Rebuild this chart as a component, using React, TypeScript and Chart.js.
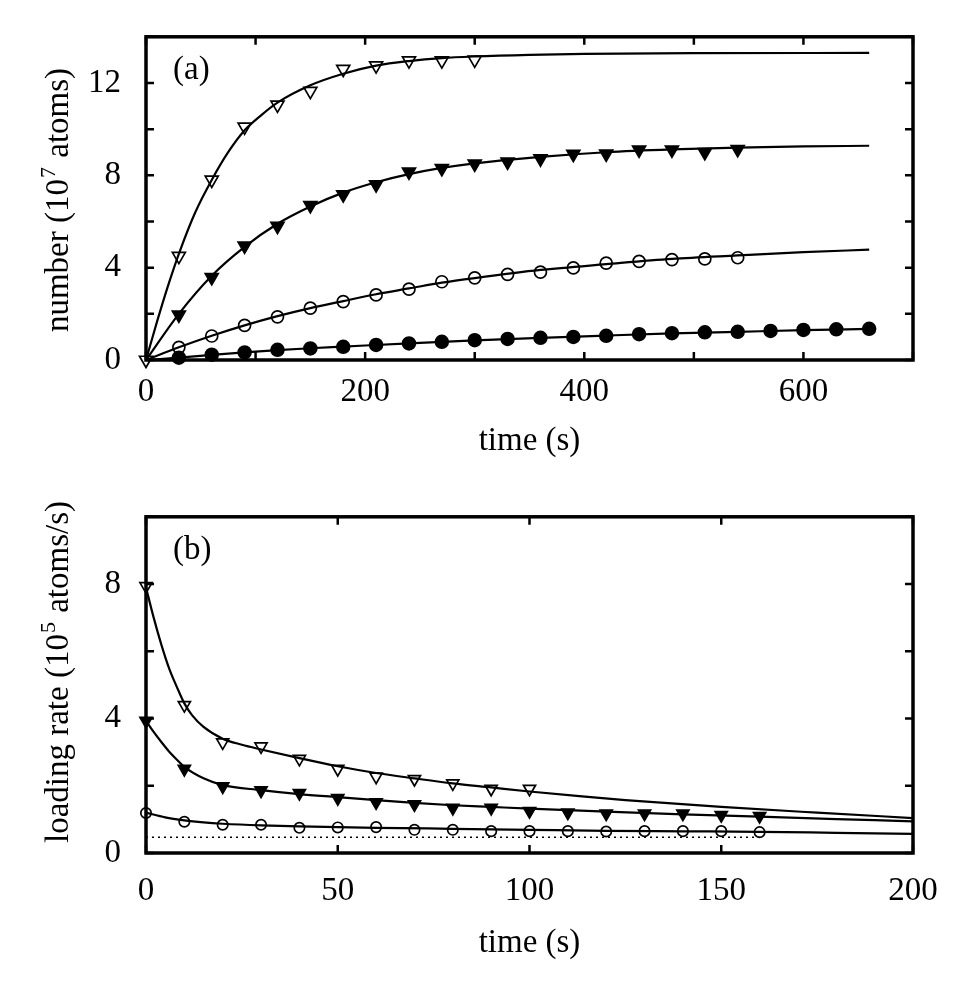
import { useEffect, useRef } from 'react';
import { Chart, registerables } from 'chart.js';

Chart.register(...registerables);

const FONT = '"Liberation Serif", "Times New Roman", serif';

// ---- panel (a): number of atoms vs time ----
const tOpenTriA = [0, 30, 60, 90, 120, 150, 180, 210, 240, 270, 300];
const nOpenTriA = [0, 4.5, 7.8, 10.1, 11.05, 11.65, 12.6, 12.75, 12.97, 12.97, 13.0];

const tFilledTriA = [30, 60, 90, 120, 150, 180, 210, 240, 270, 300, 330, 360, 390, 420, 450, 480, 510, 540];
const nFilledTriA = [1.96, 3.58, 4.95, 5.8, 6.7, 7.17, 7.6, 8.15, 8.3, 8.5, 8.58, 8.72, 8.92, 8.93, 9.1, 9.1, 9.0, 9.13];

const tOpenCircA = [30, 60, 90, 120, 150, 180, 210, 240, 270, 300, 330, 360, 390, 420, 450, 480, 510, 540];
const nOpenCircA = [0.55, 1.04, 1.5, 1.87, 2.25, 2.53, 2.82, 3.07, 3.39, 3.56, 3.71, 3.81, 3.99, 4.2, 4.27, 4.35, 4.38, 4.43];

const tFilledCircA = [30, 60, 90, 120, 150, 180, 210, 240, 270, 300, 330, 360, 390, 420, 450, 480, 510, 540, 570, 600, 630, 660];
const nFilledCircA = [0.1, 0.23, 0.33, 0.44, 0.5, 0.57, 0.65, 0.72, 0.79, 0.86, 0.91, 0.96, 1.0, 1.05, 1.12, 1.16, 1.2, 1.22, 1.26, 1.3, 1.33, 1.35];

// fitted curves
const tFit1A = [0, 10, 20, 30, 45, 60, 75, 90, 105, 120, 150, 180, 210, 240, 270, 300, 350, 400, 500, 660];
const nFit1A = [0, 1.65, 3.2, 4.6, 6.4, 7.8, 9.0, 9.95, 10.6, 11.15, 11.9, 12.4, 12.75, 12.95, 13.08, 13.15, 13.22, 13.26, 13.29, 13.3];
const tFit2A = [0, 30, 60, 90, 120, 150, 180, 210, 240, 270, 300, 360, 420, 480, 540, 600, 660];
const nFit2A = [0, 2.0, 3.65, 4.9, 5.9, 6.65, 7.25, 7.7, 8.05, 8.32, 8.52, 8.8, 9.0, 9.12, 9.2, 9.25, 9.28];
const tFit3A = [0, 30, 60, 90, 120, 150, 180, 210, 240, 270, 300, 360, 420, 480, 540, 600, 660];
const nFit3A = [0, 0.55, 1.05, 1.5, 1.9, 2.25, 2.55, 2.85, 3.1, 3.35, 3.55, 3.9, 4.15, 4.38, 4.53, 4.67, 4.78];
const tFit4A = [0, 30, 60, 90, 120, 150, 180, 240, 300, 360, 420, 480, 540, 600, 660];
const nFit4A = [0, 0.1, 0.22, 0.33, 0.43, 0.51, 0.58, 0.72, 0.85, 0.96, 1.06, 1.15, 1.22, 1.29, 1.35];

// ---- panel (b): loading rate vs time ----
const tOpenTriB = [0, 10, 20, 30, 40, 50, 60, 70, 80, 90, 100];
const rOpenTriB = [7.94, 4.4, 3.29, 3.17, 2.8, 2.5, 2.27, 2.2, 2.07, 1.91, 1.91];

const tFilledTriB = [0, 10, 20, 30, 40, 50, 60, 70, 80, 90, 100, 110, 120, 130, 140, 150, 160];
const rFilledTriB = [3.93, 2.5, 1.98, 1.86, 1.78, 1.63, 1.51, 1.45, 1.34, 1.34, 1.25, 1.2, 1.17, 1.17, 1.17, 1.13, 1.1];

const tOpenCircB = [0, 10, 20, 30, 40, 50, 60, 70, 80, 90, 100, 110, 120, 130, 140, 150, 160];
const rOpenCircB = [1.19, 0.93, 0.84, 0.84, 0.75, 0.76, 0.77, 0.69, 0.69, 0.65, 0.65, 0.65, 0.64, 0.65, 0.65, 0.65, 0.62];

const tFit1B = [0, 2, 4, 6, 8, 10, 12, 15, 20, 25, 30, 40, 50, 60, 70, 80, 90, 100, 113, 125, 150, 175, 200];
const rFit1B = [7.9, 7.0, 6.2, 5.5, 4.95, 4.45, 4.1, 3.75, 3.4, 3.22, 3.08, 2.82, 2.58, 2.38, 2.22, 2.07, 1.95, 1.83, 1.69, 1.57, 1.37, 1.2, 1.04];
const tFit2B = [0, 2, 4, 6, 8, 10, 15, 20, 30, 40, 50, 60, 70, 80, 90, 100, 120, 140, 160, 180, 200];
const rFit2B = [3.93, 3.6, 3.3, 3.02, 2.78, 2.56, 2.22, 2.02, 1.87, 1.75, 1.66, 1.57, 1.49, 1.42, 1.37, 1.32, 1.23, 1.15, 1.08, 1.01, 0.94];
const tFit3B = [0, 5, 10, 15, 20, 30, 40, 50, 60, 80, 100, 120, 140, 160, 180, 200];
const rFit3B = [1.2, 1.06, 0.97, 0.91, 0.87, 0.82, 0.79, 0.77, 0.75, 0.72, 0.69, 0.66, 0.645, 0.63, 0.6, 0.57];

const tBackground = [0, 160];
const rBackground = [0.47, 0.47];

const pts = (xs: number[], ys: number[]) => xs.map((x, i) => ({ x, y: ys[i] }));

// box, inward ticks on all sides, panel label and y title with superscript
const framePlugin = {
  id: 'frame',
  afterDraw(chart: any, _args: any, opts: any) {
    const { ctx, chartArea: a, scales } = chart;
    const xs = scales.x;
    const ys = scales.y;
    ctx.save();
    ctx.strokeStyle = '#000';
    ctx.lineWidth = 2.5;
    const len = 8;
    ctx.beginPath();
    xs.ticks.forEach((tk: any) => {
      const px = xs.getPixelForValue(tk.value);
      ctx.moveTo(px, a.bottom);
      ctx.lineTo(px, a.bottom - len);
      ctx.moveTo(px, a.top);
      ctx.lineTo(px, a.top + len);
    });
    ys.ticks.forEach((tk: any) => {
      const py = ys.getPixelForValue(tk.value);
      ctx.moveTo(a.left, py);
      ctx.lineTo(a.left + len, py);
      ctx.moveTo(a.right, py);
      ctx.lineTo(a.right - len, py);
    });
    ctx.stroke();
    ctx.lineWidth = 3.5;
    ctx.strokeRect(a.left, a.top, a.right - a.left, a.bottom - a.top);

    ctx.fillStyle = '#000';
    ctx.textBaseline = 'alphabetic';
    ctx.textAlign = 'left';
    ctx.font = `33px ${FONT}`;
    ctx.fillText(opts.label, a.left + 27, a.top + 42);

    // rotated y title
    const big = `33px ${FONT}`;
    const small = `22px ${FONT}`;
    ctx.font = big;
    const w1 = ctx.measureText(opts.pre).width;
    const w3 = ctx.measureText(opts.post).width;
    ctx.font = small;
    const w2 = ctx.measureText(opts.sup).width;
    const start = -(w1 + w2 + w3) / 2;
    ctx.translate(68, opts.titleY);
    ctx.rotate(-Math.PI / 2);
    ctx.font = big;
    ctx.fillText(opts.pre, start, 0);
    ctx.font = small;
    ctx.fillText(opts.sup, start + w1 + 1, -13);
    ctx.font = big;
    ctx.fillText(opts.post, start + w1 + w2 + 2, 0);
    ctx.restore();
  },
};

const marker = (data: { x: number; y: number }[], kind: string, r: number) => {
  const tri = kind.includes('Tri');
  const filled = kind.startsWith('filled');
  return {
    data,
    showLine: false,
    pointStyle: tri ? 'triangle' : 'circle',
    rotation: tri ? 180 : 0,
    pointRadius: r,
    pointBorderWidth: 1.7,
    pointBorderColor: '#000',
    pointBackgroundColor: filled ? '#000' : 'rgba(0,0,0,0)',
    clip: false as const,
  };
};

const fit = (data: { x: number; y: number }[]) => ({
  data,
  showLine: true,
  pointRadius: 0,
  borderColor: '#000',
  borderWidth: 2.2,
  cubicInterpolationMode: 'monotone' as const,
});

function makeOptions(cfg: {
  xMax: number; xStep: number; xLabelEvery: number;
  yMax: number; yLabelEvery: number;
  xHeight: number; xPadTop: number; xTitlePad: number; top: number;
  frame: any;
}) {
  return {
    animation: false as const,
    responsive: true,
    maintainAspectRatio: false,
    events: [],
    layout: { padding: { left: 0, right: 64, top: cfg.top, bottom: 0 } },
    plugins: {
      legend: { display: false },
      tooltip: { enabled: false },
      frame: cfg.frame,
    },
    scales: {
      x: {
        type: 'linear' as const,
        min: 0,
        max: cfg.xMax,
        grid: { display: false },
        border: { display: false },
        ticks: {
          stepSize: cfg.xStep,
          color: '#000',
          padding: cfg.xPadTop,
          maxRotation: 0,
          font: { family: FONT, size: 33 },
          callback: (v: any) => (Number(v) % cfg.xLabelEvery === 0 ? String(v) : ''),
        },
        title: {
          display: true,
          text: 'time (s)',
          color: '#000',
          font: { family: FONT, size: 33 },
          padding: { top: 0, bottom: cfg.xTitlePad },
        },
        afterFit: (s: any) => { s.height = cfg.xHeight; },
      },
      y: {
        type: 'linear' as const,
        min: 0,
        max: cfg.yMax,
        grid: { display: false },
        border: { display: false },
        ticks: {
          stepSize: 2,
          color: '#000',
          padding: 17,
          font: { family: FONT, size: 33 },
          callback: (v: any) => (Number(v) % cfg.yLabelEvery === 0 ? String(v) : ''),
        },
        afterFit: (s: any) => { s.width = 146; },
      },
    },
  };
}

function PanelA() {
  const ref = useRef<HTMLCanvasElement>(null);
  useEffect(() => {
    if (!ref.current) return;
    const chart = new Chart(ref.current, {
      type: 'scatter',
      data: {
        datasets: [
          marker(pts(tOpenTriA, nOpenTriA), 'openTri', 7.5),
          marker(pts(tFilledTriA, nFilledTriA), 'filledTri', 7.5),
          marker(pts(tOpenCircA, nOpenCircA), 'openCirc', 6),
          marker(pts(tFilledCircA, nFilledCircA), 'filledCirc', 6.4),
          fit(pts(tFit1A, nFit1A)),
          fit(pts(tFit2A, nFit2A)),
          fit(pts(tFit3A, nFit3A)),
          fit(pts(tFit4A, nFit4A)),
        ] as any,
      },
      options: makeOptions({
        xMax: 700, xStep: 100, xLabelEvery: 200,
        yMax: 14, yLabelEvery: 4,
        xHeight: 120, xPadTop: 5, xTitlePad: 19, top: 33,
        frame: { label: '(a)', pre: 'number (10', sup: '7', post: ' atoms)', titleY: 201 },
      }) as any,
      plugins: [framePlugin],
    });
    return () => chart.destroy();
  }, []);
  return (
    <div style={{ position: 'relative', width: 977, height: 480 }}>
      <canvas ref={ref} />
    </div>
  );
}

function PanelB() {
  const ref = useRef<HTMLCanvasElement>(null);
  useEffect(() => {
    if (!ref.current) return;
    const chart = new Chart(ref.current, {
      type: 'scatter',
      data: {
        datasets: [
          marker(pts(tOpenTriB, rOpenTriB), 'openTri', 7),
          marker(pts(tFilledTriB, rFilledTriB), 'filledTri', 7),
          marker(pts(tOpenCircB, rOpenCircB), 'openCirc', 5.2),
          fit(pts(tFit1B, rFit1B)),
          fit(pts(tFit2B, rFit2B)),
          fit(pts(tFit3B, rFit3B)),
          {
            data: pts(tBackground, rBackground),
            showLine: true,
            pointRadius: 0,
            borderColor: '#000',
            borderWidth: 1.6,
            borderDash: [2, 4],
          },
        ] as any,
      },
      options: makeOptions({
        xMax: 200, xStep: 50, xLabelEvery: 50,
        yMax: 10, yLabelEvery: 4,
        xHeight: 147, xPadTop: 11, xTitlePad: 37, top: 26,
        frame: { label: '(b)', pre: 'loading rate (10', sup: '5', post: ' atoms/s)', titleY: 193 },
      }) as any,
      plugins: [framePlugin],
    });
    return () => chart.destroy();
  }, []);
  return (
    <div style={{ position: 'relative', width: 977, height: 520 }}>
      <canvas ref={ref} />
    </div>
  );
}

export default function App() {
  return (
    <div style={{ position: 'absolute', left: 0, top: 0, width: 977, height: 1000, background: '#fff' }}>
      <PanelA />
      <PanelB />
    </div>
  );
}
